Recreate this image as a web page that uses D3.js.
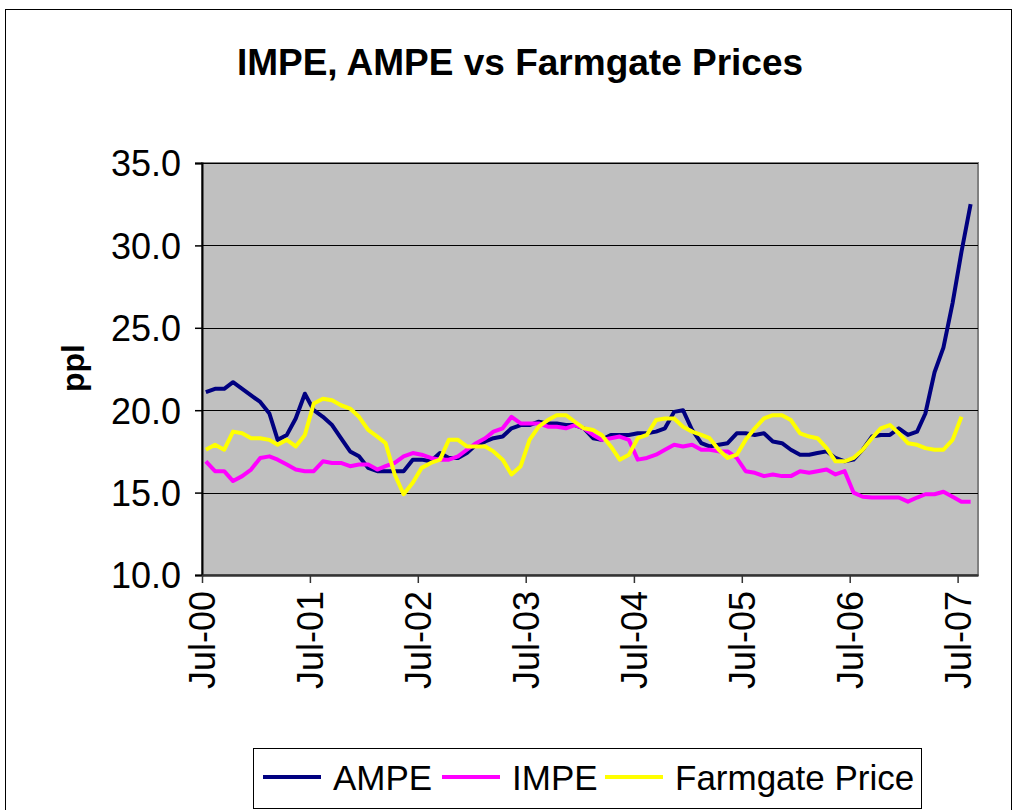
<!DOCTYPE html>
<html>
<head>
<meta charset="utf-8">
<script src="https://cdn.jsdelivr.net/npm/d3@7"></script>
<style>
  body { margin: 0; background: #fff; }
  svg { display: block; font-family: "Liberation Sans", Arial, sans-serif; }
</style>
</head>
<body>
<svg width="1015" height="810"></svg>
<script>
let width = 1015;
let height = 810;

// plot area inside the chart
let plot = { left: 202, right: 978, top: 163, bottom: 575 };

// monthly series, first value is Jul-00
let startMonth = new Date(2000, 6, 14);

let ampe = [21.1, 21.3, 21.3, 21.7, 21.3, 20.9, 20.5, 19.8, 18.2, 18.5, 19.5, 21.0,
    20.0, 19.6, 19.1, 18.3, 17.5, 17.2, 16.5, 16.3, 16.3, 16.3, 16.3, 17.0,
    17.0, 16.9, 17.4, 17.1, 17.1, 17.4, 17.9, 18.1, 18.3, 18.4, 18.9, 19.1,
    19.1, 19.3, 19.2, 19.2, 19.1, 19.1, 18.9, 18.3, 18.2, 18.5, 18.5, 18.5,
    18.6, 18.6, 18.7, 18.9, 19.9, 20.0, 18.8, 18.0, 17.8, 17.9, 18.0, 18.6,
    18.6, 18.5, 18.6, 18.1, 18.0, 17.6, 17.3, 17.3, 17.4, 17.5, 17.1, 16.9,
    17.0, 17.6, 18.4, 18.5, 18.5, 18.9, 18.5, 18.7, 19.8, 22.3, 23.8, 26.5,
    29.6, 32.5];

let impe = [16.9, 16.3, 16.3, 15.7, 16.0, 16.4, 17.1, 17.2, 17.0, 16.7, 16.4, 16.3,
    16.3, 16.9, 16.8, 16.8, 16.6, 16.7, 16.7, 16.4, 16.6, 16.8, 17.2, 17.4,
    17.3, 17.1, 17.0, 17.0, 17.2, 17.6, 18.0, 18.3, 18.7, 18.9, 19.6, 19.2,
    19.2, 19.2, 19.0, 19.0, 18.9, 19.1, 18.9, 18.5, 18.2, 18.3, 18.4, 18.2,
    17.0, 17.1, 17.3, 17.6, 17.9, 17.8, 17.9, 17.6, 17.6, 17.5, 17.5, 17.1,
    16.3, 16.2, 16.0, 16.1, 16.0, 16.0, 16.3, 16.2, 16.3, 16.4, 16.1, 16.3,
    15.0, 14.75, 14.7, 14.7, 14.7, 14.7, 14.45, 14.7, 14.9, 14.9, 15.05, 14.75,
    14.45, 14.45];

let farmgate = [17.6, 17.9, 17.6, 18.7, 18.6, 18.3, 18.3, 18.2, 17.9, 18.2, 17.8, 18.5,
    20.4, 20.7, 20.6, 20.3, 20.1, 19.6, 18.8, 18.4, 18.0, 16.1, 14.9, 15.6,
    16.5, 16.8, 17.0, 18.2, 18.2, 17.8, 17.8, 17.8, 17.5, 17.0, 16.1, 16.6,
    18.2, 19.0, 19.4, 19.7, 19.7, 19.3, 18.9, 18.8, 18.5, 17.8, 17.0, 17.3,
    18.3, 18.5, 19.4, 19.5, 19.5, 19.0, 18.7, 18.5, 18.3, 17.6, 17.1, 17.3,
    18.2, 18.9, 19.5, 19.7, 19.7, 19.4, 18.6, 18.4, 18.3, 17.7, 16.9, 16.9,
    17.1, 17.6, 18.3, 18.9, 19.1, 18.6, 18.0, 17.9, 17.7, 17.6, 17.6, 18.2,
    19.6];

let seriesNames = ["AMPE", "IMPE", "Farmgate Price"];
let seriesColors = ["#000080", "#ff00ff", "#ffff00"];

let yTicks = [10, 15, 20, 25, 30, 35];
let xTickLabels = ["Jul-00", "Jul-01", "Jul-02", "Jul-03", "Jul-04", "Jul-05", "Jul-06", "Jul-07"];

let svg = d3.select("svg");

function to_points(values) {
    // attach a month date to every value
    return values.map((v, i) => ({ date: d3.timeMonth.offset(startMonth, i), value: v }));
}

let series = [ampe, impe, farmgate].map((vals, i) => ({
    name: seriesNames[i],
    color: seriesColors[i],
    points: to_points(vals)
}));

let x = d3.scaleTime()
    .domain([new Date(2000, 6, 1), new Date(2007, 8, 8)])
    .range([plot.left, plot.right]);

let y = d3.scaleLinear()
    .domain([10, 35])
    .range([plot.bottom, plot.top]);

// chart area border
svg.append("rect")
    .attr("x", 5.5)
    .attr("y", 9.5)
    .attr("width", 1006)
    .attr("height", 820)
    .style("fill", "#fff")
    .style("stroke", "#000")
    .style("stroke-width", 1);

// plot background
svg.append("rect")
    .attr("x", plot.left)
    .attr("y", plot.top)
    .attr("width", plot.right - plot.left)
    .attr("height", plot.bottom - plot.top)
    .style("fill", "#c0c0c0")
    .style("stroke", "#808080")
    .style("stroke-width", 2);

// gridlines
svg.append("g")
    .selectAll("line")
    .data(yTicks.slice(1))
    .join("line")
    .attr("x1", plot.left)
    .attr("x2", plot.right)
    .attr("y1", d => Math.round(y(d)) + 0.5)
    .attr("y2", d => Math.round(y(d)) + 0.5)
    .style("stroke", "#000")
    .style("stroke-width", 1);

// lines
let line = d3.line()
    .x(d => x(d.date))
    .y(d => y(d.value));

svg.append("g")
    .selectAll("path")
    .data(series)
    .join("path")
    .attr("d", d => line(d.points))
    .style("fill", "none")
    .style("stroke", d => d.color)
    .style("stroke-width", 4)
    .style("stroke-linejoin", "round");

// y axis
let yAxis = svg.append("g")
    .attr("transform", `translate(${plot.left},0)`)
    .call(d3.axisLeft(y).tickValues(yTicks).tickFormat(d3.format(".1f")).tickSize(7).tickPadding(14));

yAxis.select(".domain").style("stroke", "#000").style("stroke-width", 2);
yAxis.selectAll(".tick line").style("stroke", "#000").style("stroke-width", 1.5);
yAxis.selectAll("text")
    .style("font-size", "36px")
    .style("fill", "#000")
    .attr("dy", "0.36em");

// x axis
let xTickDates = xTickLabels.map((d, i) => new Date(2000 + i, 6, 1));

let xAxis = svg.append("g")
    .attr("transform", `translate(0,${plot.bottom})`)
    .call(d3.axisBottom(x).tickValues(xTickDates).tickFormat((d, i) => xTickLabels[i]).tickSize(8).tickSizeOuter(0));

xAxis.select(".domain").style("stroke", "#333").style("stroke-width", 2.5);
xAxis.selectAll(".tick line").style("stroke", "#333").style("stroke-width", 1.5);
xAxis.selectAll("text")
    .style("font-size", "36px")
    .style("fill", "#000")
    .style("text-anchor", "end")
    .attr("transform", "rotate(-90)")
    .attr("x", -16)
    .attr("y", 0)
    .attr("dy", "0.36em");

// title
svg.append("text")
    .attr("x", 520)
    .attr("y", 75)
    .attr("text-anchor", "middle")
    .style("font-size", "37px")
    .style("font-weight", "bold")
    .text("IMPE, AMPE vs Farmgate Prices");

// y label
svg.append("text")
    .attr("transform", "translate(84,368) rotate(-90)")
    .attr("text-anchor", "middle")
    .style("font-size", "32px")
    .style("font-weight", "bold")
    .text("ppl");

// legend
let legend = svg.append("g");

legend.append("rect")
    .attr("x", 253.5)
    .attr("y", 748.5)
    .attr("width", 668)
    .attr("height", 60)
    .style("fill", "#fff")
    .style("stroke", "#000")
    .style("stroke-width", 1);

let legendX = [263, 442, 605];

let items = legend.selectAll(".item")
    .data(series)
    .join("g")
    .attr("class", "item")
    .attr("transform", (d, i) => `translate(${legendX[i]},777)`);

items.append("line")
    .attr("x1", 0)
    .attr("x2", 58)
    .style("stroke", d => d.color)
    .style("stroke-width", 4);

items.append("text")
    .attr("x", 70)
    .attr("dy", "0.36em")
    .style("font-size", "35px")
    .text(d => d.name);
</script>
</body>
</html>
